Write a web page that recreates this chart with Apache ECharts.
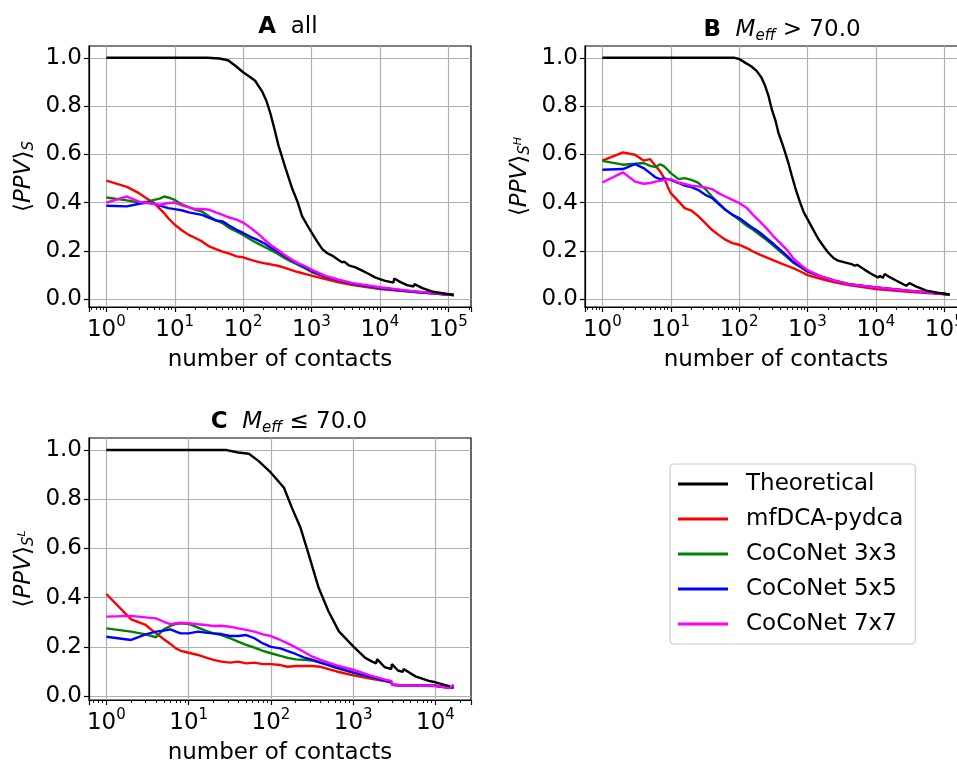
<!DOCTYPE html>
<html><head><meta charset="utf-8">
<script src="https://cdn.jsdelivr.net/npm/echarts@6/dist/echarts.min.js"></script>
<style>html,body{margin:0;padding:0;background:#fff}#c{width:957px;height:760px}</style>
</head><body><div id="c"></div>
<script>
// ---------- data ----------
const seriesNames = ['Theoretical', 'mfDCA-pydca', 'CoCoNet 3x3', 'CoCoNet 5x5', 'CoCoNet 7x7'];
const yTickValues = [0, 0.2, 0.4, 0.6, 0.8, 1.0];

// Panel A: all
const theoXA = [1,30,45,60,77,100,120,150,190,220,250,290,330,420,525,630,725,850,1000,1200,1440,1700,2000,2400,2800,3000,3500,4400,5500,6900,8500,10000,12000,15800,16200,20000,25000,31000,32000,42000,60000,120000];
const theoYA = [1,1,0.997,0.99,0.967,0.94,0.925,0.905,0.86,0.82,0.77,0.70,0.635,0.54,0.456,0.40,0.345,0.31,0.276,0.24,0.207,0.19,0.18,0.165,0.152,0.155,0.14,0.131,0.118,0.104,0.09,0.083,0.075,0.068,0.085,0.07,0.058,0.052,0.062,0.045,0.03,0.017];
const xA = [1,2,3,4,5,6,7,8,10,13,16,20,25,32,40,50,63,80,100,130,160,200,250,320,400,500,630,800,1000,1600,2500,4000,10000,30000,120000];
const mfdcaA = [0.491,0.465,0.439,0.415,0.398,0.375,0.356,0.336,0.308,0.283,0.266,0.253,0.239,0.218,0.207,0.197,0.188,0.177,0.173,0.162,0.155,0.149,0.144,0.138,0.13,0.121,0.112,0.104,0.097,0.083,0.069,0.058,0.041,0.03,0.017];
const coco3A = [0.421,0.409,0.40,0.404,0.411,0.416,0.425,0.421,0.411,0.391,0.381,0.37,0.363,0.342,0.326,0.315,0.294,0.28,0.266,0.246,0.232,0.218,0.204,0.188,0.17,0.156,0.142,0.128,0.112,0.092,0.076,0.062,0.044,0.03,0.017];
const coco5A = [0.387,0.384,0.395,0.40,0.395,0.387,0.382,0.377,0.373,0.367,0.359,0.354,0.349,0.336,0.326,0.322,0.304,0.287,0.274,0.257,0.246,0.232,0.215,0.197,0.179,0.163,0.146,0.133,0.117,0.093,0.078,0.064,0.046,0.031,0.017];
const coco7A = [0.40,0.425,0.404,0.398,0.394,0.391,0.394,0.398,0.40,0.387,0.38,0.373,0.373,0.37,0.359,0.349,0.338,0.329,0.317,0.294,0.274,0.249,0.225,0.204,0.184,0.166,0.149,0.137,0.122,0.096,0.08,0.066,0.049,0.033,0.017];

// Panel B: Meff > 70
const theoXB = [1,86,100,122,150,180,210,240,270,300,340,375,420,470,530,590,680,780,880,1000,1200,1440,1700,2000,2400,2800,3500,4400,4900,5300,6800,8500,10700,11500,12600,13500,15000,20000,27700,29000,31000,40000,55000,80000,120000];
const theoYB = [1,1,0.995,0.98,0.965,0.946,0.92,0.884,0.84,0.787,0.74,0.69,0.65,0.608,0.56,0.511,0.45,0.40,0.36,0.331,0.29,0.249,0.22,0.193,0.17,0.159,0.152,0.145,0.138,0.142,0.122,0.105,0.09,0.095,0.088,0.104,0.095,0.076,0.055,0.058,0.066,0.05,0.035,0.026,0.019];
const xB = [1,2,3,4,5,6,7,8,9,10,13,16,20,25,32,40,50,63,80,100,130,160,200,250,320,400,500,630,800,1000,1600,2500,4000,10000,30000,120000];
const mfdcaB = [0.574,0.608,0.598,0.574,0.58,0.552,0.529,0.501,0.467,0.439,0.405,0.377,0.367,0.345,0.315,0.287,0.266,0.246,0.232,0.225,0.211,0.197,0.184,0.173,0.16,0.149,0.138,0.127,0.113,0.099,0.083,0.069,0.058,0.041,0.03,0.019];
const coco3B = [0.573,0.557,0.561,0.564,0.552,0.547,0.559,0.55,0.536,0.522,0.497,0.501,0.494,0.483,0.456,0.425,0.398,0.37,0.349,0.329,0.304,0.287,0.266,0.246,0.221,0.197,0.174,0.149,0.131,0.113,0.093,0.076,0.062,0.048,0.035,0.019];
const coco5B = [0.536,0.539,0.559,0.543,0.522,0.504,0.497,0.5,0.497,0.494,0.481,0.47,0.464,0.453,0.432,0.419,0.395,0.37,0.349,0.336,0.312,0.294,0.276,0.253,0.228,0.204,0.179,0.152,0.135,0.116,0.093,0.076,0.062,0.048,0.035,0.019];
const coco7B = [0.483,0.525,0.487,0.478,0.481,0.487,0.49,0.494,0.496,0.497,0.483,0.477,0.47,0.467,0.463,0.456,0.439,0.425,0.411,0.398,0.377,0.349,0.322,0.294,0.259,0.232,0.204,0.166,0.141,0.12,0.093,0.076,0.062,0.048,0.035,0.019];

// Panel C: Meff <= 70
const theoXC = [1,29,40,54,71,100,144,180,229,288,380,500,670,1000,1400,1700,1900,1950,2400,2900,2950,3500,4000,4100,5700,8300,10000,15000];
const theoYC = [1,1,0.99,0.985,0.955,0.908,0.847,0.765,0.684,0.575,0.44,0.345,0.263,0.202,0.155,0.14,0.133,0.15,0.118,0.11,0.13,0.104,0.098,0.11,0.08,0.062,0.056,0.039];
const xC = [1,2,3,4,5,6,7,8,10,13,16,20,25,32,40,50,63,80,100,130,160,200,250,320,400,630,1000,1600,2500,2900,3000,4000,10000,15000,16600];
const mfdcaC = [0.415,0.312,0.289,0.255,0.231,0.212,0.194,0.184,0.176,0.167,0.157,0.147,0.14,0.136,0.14,0.133,0.136,0.13,0.13,0.126,0.119,0.122,0.122,0.122,0.119,0.10,0.084,0.071,0.06,0.055,0.046,0.043,0.041,0.034,0.037];
const coco3C = [0.275,0.262,0.251,0.239,0.271,0.285,0.293,0.296,0.293,0.278,0.266,0.255,0.248,0.235,0.221,0.208,0.197,0.184,0.174,0.163,0.155,0.149,0.147,0.144,0.136,0.114,0.094,0.076,0.062,0.057,0.046,0.043,0.042,0.034,0.036];
const coco5C = [0.241,0.228,0.251,0.262,0.266,0.271,0.262,0.255,0.255,0.262,0.258,0.255,0.252,0.244,0.244,0.248,0.235,0.214,0.2,0.194,0.183,0.171,0.157,0.147,0.136,0.117,0.096,0.079,0.062,0.057,0.046,0.043,0.042,0.034,0.036];
const coco7C = [0.323,0.326,0.32,0.316,0.302,0.292,0.296,0.298,0.296,0.292,0.289,0.285,0.286,0.282,0.275,0.269,0.262,0.251,0.244,0.228,0.214,0.198,0.18,0.16,0.147,0.125,0.107,0.084,0.066,0.062,0.046,0.043,0.042,0.033,0.046];

// ---------- styling ----------
const colors = ['#000000', '#ff0000', '#008000', '#0000ff', '#ff00ff'];
const FONT = 'DejaVu Sans';
const FS = 23;
const GRIDC = '#b0b0b0';

const panels = [
  { grid: {left: 89, top: 46, width: 382, height: 261}, xMin: 0.557, xMax: 215000, yMin: -0.033, yMax: 1.049,
    theoX: theoXA, theoY: theoYA, x: xA, ys: [mfdcaA, coco3A, coco5A, coco7A],
    yName: '{n|\u27E8}{i|PPV}{n|\u27E9}{s|S}' },
  { grid: {left: 585, top: 46, width: 382, height: 261}, xMin: 0.557, xMax: 215000, yMin: -0.033, yMax: 1.049,
    theoX: theoXB, theoY: theoYB, x: xB, ys: [mfdcaB, coco3B, coco5B, coco7B],
    yName: '{n|\u27E8}{i|PPV}{n|\u27E9}{s|S}{p|H}' },
  { grid: {left: 89, top: 438, width: 382, height: 262}, xMin: 0.615, xMax: 27000, yMin: -0.016, yMax: 1.049,
    theoX: theoXC, theoY: theoYC, x: xC, ys: [mfdcaC, coco3C, coco5C, coco7C],
    yName: '{n|\u27E8}{i|PPV}{n|\u27E9}{s|S}{p|L}' }
];

function pairs(xs, ys) { return xs.map((x, i) => [x, ys[i]]); }

const nameRich = {
  n: {fontFamily: FONT, fontSize: FS, fontWeight: 'normal', color: '#000'},
  i: {fontFamily: FONT, fontSize: FS, fontWeight: 'normal', fontStyle: 'italic', color: '#000'},
  s: {fontFamily: FONT, fontSize: 15, fontWeight: 'normal', fontStyle: 'italic', color: '#000', padding: [11, 0, 0, 0]},
  p: {fontFamily: FONT, fontSize: 11, fontWeight: 'normal', fontStyle: 'italic', color: '#000', padding: [0, 0, 4, 0]}
};
const titleRich = {
  b: {fontFamily: FONT, fontSize: FS, fontWeight: 'bold', color: '#000'},
  n: {fontFamily: FONT, fontSize: FS, fontWeight: 'normal', color: '#000'},
  i: {fontFamily: FONT, fontSize: FS, fontWeight: 'normal', fontStyle: 'italic', color: '#000'},
  s: {fontFamily: FONT, fontSize: 15, fontWeight: 'normal', fontStyle: 'italic', color: '#000', padding: [13, 0, 0, 0]}
};

const grids = [], xAxes = [], yAxes = [], series = [];
panels.forEach((p, g) => {
  grids.push(Object.assign({show: true, borderColor: '#000', borderWidth: 1.2, backgroundColor: 'transparent',
    containLabel: false, outerBoundsMode: 'none'}, p.grid));
  xAxes.push({
    type: 'log', logBase: 10, gridIndex: g, min: p.xMin, max: p.xMax, position: 'bottom',
    splitNumber: 5,
    name: 'number of contacts', nameLocation: 'middle', nameGap: 42,
    nameTextStyle: {fontFamily: FONT, fontSize: FS, color: '#000'},
    axisLine: {show: true, onZero: false, lineStyle: {color: '#000', width: 1.2}},
    axisTick: {show: true, inside: false, length: 5, lineStyle: {color: '#000', width: 1.2}},
    minorTick: {show: true, splitNumber: 9, length: 3, lineStyle: {color: '#000', width: 0.9}},
    minorSplitLine: {show: false},
    splitLine: {show: true, showMinLine: false, showMaxLine: false, lineStyle: {color: GRIDC, width: 1.2}},
    axisLabel: {
      margin: 8, color: '#000', hideOverlap: false,
      formatter: function (v) {
        const e = Math.log10(v);
        if (Math.abs(e - Math.round(e)) > 1e-6) return '';
        return '{b|10}{s|' + Math.round(e) + '}';
      },
      rich: {
        b: {fontFamily: FONT, fontSize: FS, color: '#000'},
        s: {fontFamily: FONT, fontSize: 15, color: '#000', padding: [0, 0, 15, 0]}
      }
    }
  });
  yAxes.push({
    type: 'value', gridIndex: g, min: p.yMin, max: p.yMax,
    name: p.yName, nameLocation: 'middle', nameGap: 52, nameRotate: 90,
    nameTextStyle: {rich: nameRich},
    axisLine: {show: true, onZero: false, lineStyle: {color: '#000', width: 1.2}},
    axisTick: {show: true, inside: false, length: 5, customValues: yTickValues, lineStyle: {color: '#000', width: 1.2}},
    splitLine: {show: true, lineStyle: {color: GRIDC, width: 1.2}},
    axisLabel: {margin: 7, color: '#000', fontFamily: FONT, fontSize: FS, customValues: yTickValues,
      formatter: v => v.toFixed(1)}
  });
  series.push({
    name: seriesNames[0], type: 'line', xAxisIndex: g, yAxisIndex: g, showSymbol: false, symbol: 'none',
    lineStyle: {color: colors[0], width: 2.4}, itemStyle: {color: colors[0]},
    data: pairs(p.theoX, p.theoY), z: 3
  });
  p.ys.forEach((ys, k) => {
    series.push({
      name: seriesNames[k + 1], type: 'line', xAxisIndex: g, yAxisIndex: g, showSymbol: false, symbol: 'none',
      lineStyle: {color: colors[k + 1], width: 2.4}, itemStyle: {color: colors[k + 1]},
      data: pairs(p.x, ys), z: 2 + k * 0.1
    });
  });
});

const option = {
  backgroundColor: '#fff',
  animation: false,
  textStyle: {fontFamily: FONT},
  title: [
    {text: '{b|A}{n|  all}', left: 283, top: 11, textAlign: 'center', textStyle: {rich: titleRich}},
    {text: '{b|B}{n|  }{i|M}{s|eff}{n| > 70.0}', left: 777, top: 11, textAlign: 'center', textStyle: {rich: titleRich}},
    {text: '{b|C}{n|  }{i|M}{s|eff}{n| \u2264 70.0}', left: 284, top: 403, textAlign: 'center', textStyle: {rich: titleRich}}
  ],
  legend: {
    orient: 'vertical', left: 670, top: 464,
    data: seriesNames,
    icon: 'rect', itemWidth: 50, itemHeight: 3, itemGap: 11,
    padding: [8, 12, 8, 8],
    backgroundColor: '#fff', borderColor: '#cccccc', borderWidth: 1.2, borderRadius: 4,
    textStyle: {fontFamily: FONT, fontSize: FS, color: '#000', lineHeight: 24, padding: [0, 0, 0, 13]},
    selectedMode: false
  },
  grid: grids, xAxis: xAxes, yAxis: yAxes, series: series
};

const chart = echarts.init(document.getElementById('c'), null, {renderer: 'canvas'});
chart.setOption(option);
</script>
</body></html>
